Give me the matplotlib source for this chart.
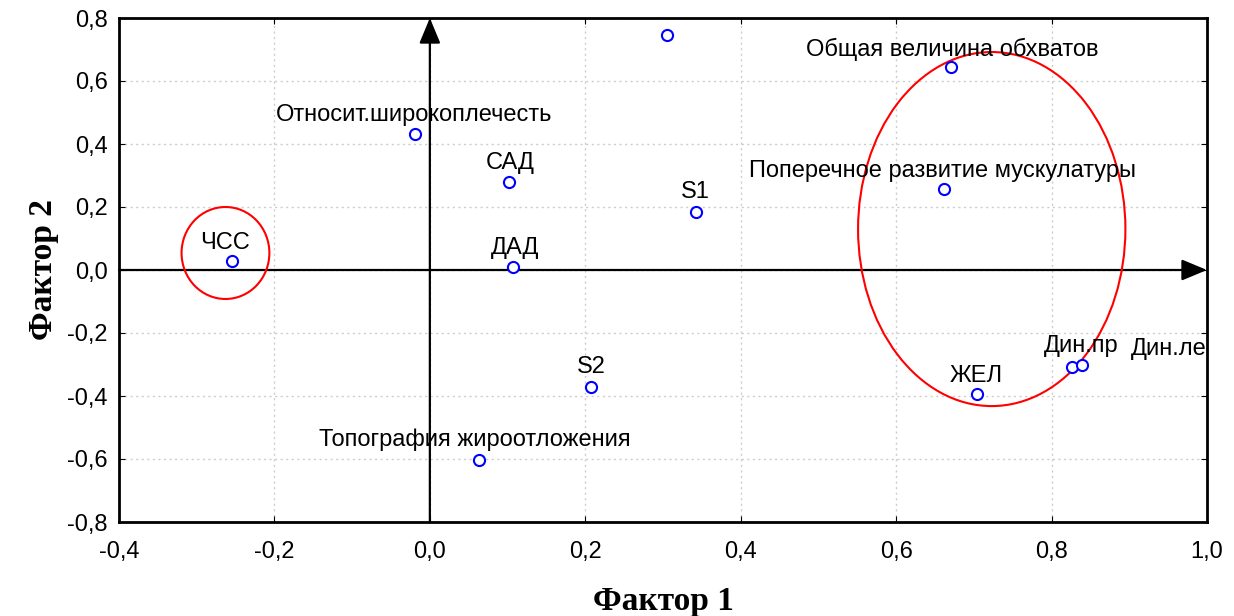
import matplotlib.pyplot as plt
from matplotlib.patches import Ellipse

# нагрузки по факторам
nazvaniya = ["ЧСС", "Относит.широкоплечесть", "САД", "ДАД", "Росто-весовой",
             "S1", "S2", "Топография жироотложения", "Общая величина обхватов",
             "Поперечное развитие мускулатуры", "ЖЕЛ", "Дин.пр", "Дин.ле"]
faktor1 = [-0.255, -0.019, 0.102, 0.107, 0.305, 0.343, 0.207, 0.063, 0.670,
           0.662, 0.704, 0.826, 0.839]
faktor2 = [0.030, 0.433, 0.280, 0.008, 0.745, 0.184, -0.373, -0.603, 0.643,
           0.256, -0.393, -0.308, -0.303]
# сдвиг подписей (в пикселях)
sdvig_x = [-7, -1, 1, 2, 0, -1, 1, -4, 2, -2, -1, 9, 87]
sdvig_y = [18, 19, 19, 19, 26, 20, 20, 20, 18, 18, 18, 21, 16]

plt.rcParams['font.family'] = ['Liberation Sans', 'DejaVu Sans']

fig = plt.figure(figsize=(12.34, 6.16), dpi=100)
ax = fig.add_axes([119 / 1234, 1 - 522 / 616, 1088 / 1234, 504 / 616])
ax.set_xlim(-0.4, 1.0)
ax.set_ylim(-0.8, 0.8)

ax.grid(True, color="#cccccc", linestyle=(0, (1.5, 2.5)), linewidth=1)
ax.set_axisbelow(True)

ax.annotate("", xy=(1.0, 0), xytext=(-0.4, 0),
            arrowprops=dict(arrowstyle="-|>,head_length=0.6,head_width=0.25", color="black",
                            lw=1.6, mutation_scale=26, shrinkA=0, shrinkB=0))
ax.annotate("", xy=(0, 0.8), xytext=(0, -0.8),
            arrowprops=dict(arrowstyle="-|>,head_length=0.6,head_width=0.25", color="black",
                            lw=1.6, mutation_scale=26, shrinkA=0, shrinkB=0))

ax.plot(faktor1, faktor2, linestyle="none", marker="o", markersize=8,
        markerfacecolor="white", markeredgecolor="blue", markeredgewidth=1.5, zorder=5)

for i in range(len(nazvaniya)):
    t = ax.annotate(nazvaniya[i], (faktor1[i], faktor2[i]),
                    xytext=(sdvig_x[i], sdvig_y[i]), textcoords="offset pixels",
                    ha="center", va="center", fontsize=17, annotation_clip=False,
                    zorder=6)
    t.set_clip_on(True)
    t.set_clip_box(ax.bbox)

ax.add_patch(Ellipse((-0.263, 0.054), 0.113, 0.292, fill=False, edgecolor="red", lw=1.5, zorder=4))
ax.add_patch(Ellipse((0.723, 0.130), 0.344, 1.124, fill=False, edgecolor="red", lw=1.5, zorder=4))

ax.set_xticks([-0.4, -0.2, 0.0, 0.2, 0.4, 0.6, 0.8, 1.0])
ax.set_yticks([-0.8, -0.6, -0.4, -0.2, 0.0, 0.2, 0.4, 0.6, 0.8])
ax.set_xticklabels([f"{v:.1f}".replace(".", ",") for v in ax.get_xticks()])
ax.set_yticklabels([f"{v:.1f}".replace(".", ",") for v in ax.get_yticks()])
ax.tick_params(direction="in", length=4, labelsize=17, top=True, right=True)
ax.tick_params(axis="x", pad=14)
ax.tick_params(axis="y", pad=8)
for s in ax.spines.values():
    s.set_linewidth(2)

ax.set_xlabel("Фактор 1", fontsize=24, fontweight="bold", family="Liberation Serif", labelpad=16)
ax.set_ylabel("Фактор 2", fontsize=24, fontweight="bold", family="Liberation Serif", labelpad=6)

plt.savefig("out.png", dpi=100)
